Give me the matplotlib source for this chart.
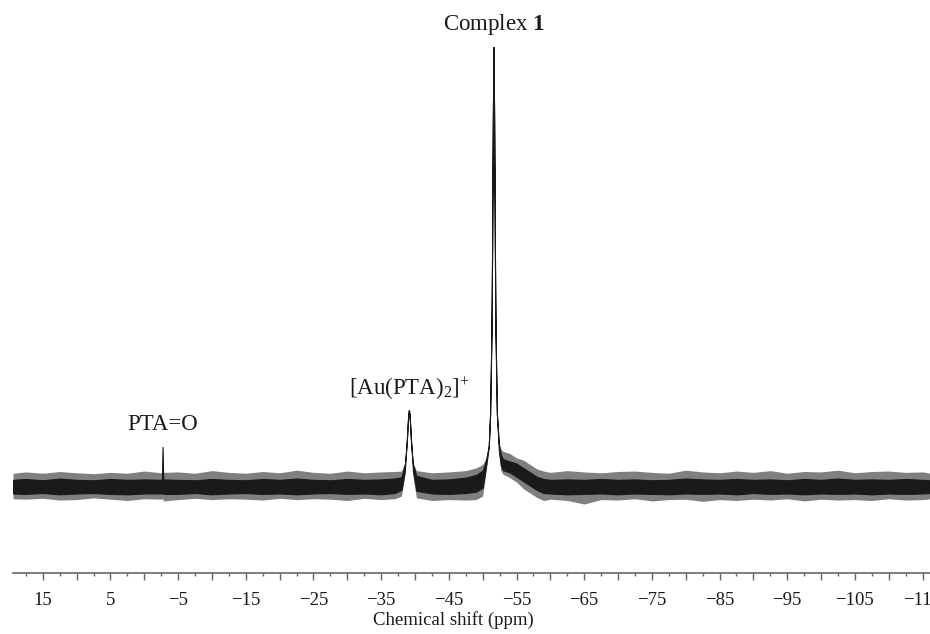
"""
31P NMR spectrum — Complex 1 with [Au(PTA)2]+ and PTA=O signals.
Saves out.png (930 x 634 px).
"""

import matplotlib
matplotlib.use("Agg")
import matplotlib.pyplot as plt
import matplotlib.ticker as mticker

plt.rcParams["font.family"] = ["Liberation Serif", "DejaVu Serif"]
plt.rcParams["mathtext.fontset"] = "custom"
plt.rcParams["mathtext.rm"] = "Liberation Serif"
plt.rcParams["mathtext.it"] = "Liberation Serif:italic"
plt.rcParams["mathtext.bf"] = "Liberation Serif:bold"

# ── spectrum (intensity: baseline 0, main peak 100) ───────────────────────────
# noise band drawn as two envelopes: dense core and outer spikes
PPM = [19.4, 17.5, 15.0, 12.5, 10.0, 7.5, 5.0, 2.5, 0.0, -2.6, -2.7, -2.8,
       -5.0, -7.5, -10.0, -12.5, -15.0, -17.5, -20.0, -22.5, -25.0, -27.5,
       -30.0, -32.5, -35.0, -37.0, -38.0, -38.5, -38.65, -38.8, -38.9, -39.0,
       -39.1, -39.2, -39.3, -39.4, -39.55, -39.7, -40.2, -42.5, -45.0, -47.5,
       -49.0, -50.0, -50.5, -50.9, -51.1, -51.3, -51.4, -51.5, -51.6, -51.7,
       -51.8, -51.9, -52.1, -52.4, -52.7, -53.0, -54.0, -55.0, -56.0, -57.0,
       -58.0, -59.0, -60.0, -62.5, -65.0, -67.5, -70.0, -72.5, -75.0, -77.5,
       -80.0, -82.5, -85.0, -87.5, -90.0, -92.5, -95.0, -97.5, -100.0, -102.5,
       -105.0, -107.5, -110.0, -112.5, -115.0, -116.2]

UPPER_SPIKE = [3.0, 3.3, 3.0, 3.4, 3.1, 2.9, 3.2, 3.0, 3.5, 3.1, 9.0, 3.2,
               3.3, 3.0, 3.6, 3.2, 3.0, 3.4, 3.1, 3.7, 3.2, 3.0,
               3.5, 3.1, 3.3, 3.4, 3.5, 5.5, 7.4, 10.6, 13.6, 16.2,
               17.4, 16.2, 13.6, 10.6, 7.4, 5.5, 3.6, 3.1, 3.3, 3.6,
               4.2, 5.0, 6.5, 9.5, 16.5, 35.0, 55.0, 83.0, 100.0, 83.0,
               55.0, 35.0, 16.5, 10.0, 8.5, 8.0, 7.5, 6.5, 6.0, 5.0,
               4.0, 3.5, 3.2, 3.6, 3.3, 3.1, 3.4, 3.5, 3.2, 3.0,
               3.7, 3.3, 3.1, 3.5, 3.2, 3.6, 3.0, 3.4, 3.3, 3.7,
               3.1, 3.4, 3.5, 3.2, 3.3, 3.0]

UPPER_CORE = [1.5, 1.7, 1.4, 1.8, 1.5, 1.4, 1.7, 1.5, 1.6, 1.5, 9.0, 1.6,
              1.5, 1.4, 1.7, 1.5, 1.4, 1.7, 1.5, 1.8, 1.5, 1.4,
              1.7, 1.5, 1.6, 1.8, 2.1, 5.0, 7.4, 10.6, 13.6, 16.2,
              17.4, 16.2, 13.6, 10.6, 7.4, 5.0, 2.4, 1.5, 1.6, 2.0,
              2.6, 3.6, 6.0, 9.2, 16.5, 35.0, 55.0, 83.0, 100.0, 83.0,
              55.0, 35.0, 16.5, 9.5, 7.2, 6.2, 5.7, 5.2, 4.2, 3.2,
              2.2, 1.7, 1.5, 1.6, 1.5, 1.7, 1.5, 1.6, 1.4, 1.5,
              1.8, 1.6, 1.5, 1.7, 1.5, 1.6, 1.4, 1.7, 1.5, 1.8,
              1.5, 1.6, 1.5, 1.7, 1.5, 1.4]

LOWER_CORE = [-1.6, -1.7, -1.5, -1.8, -1.6, -1.5, -1.7, -1.8, -1.6, -1.6, -1.4, -1.7,
              -1.7, -1.5, -1.8, -1.6, -1.5, -1.7, -1.6, -1.8, -1.6, -1.5,
              -1.7, -1.6, -1.8, -1.5, -0.8, 3.5, 7.4, 10.6, 13.6, 16.2,
              17.4, 16.2, 13.6, 10.6, 7.4, 3.5, -1.0, -1.6, -1.7, -1.5,
              -1.2, -0.3, 4.5, 9.0, 16.5, 35.0, 55.0, 83.0, 100.0, 83.0,
              55.0, 35.0, 16.5, 8.0, 4.7, 3.7, 3.2, 2.2, 1.2, 0.2,
              -0.8, -1.5, -1.6, -1.8, -1.7, -1.6, -1.8, -1.6, -1.7, -1.8,
              -1.6, -1.7, -1.6, -1.8, -1.5, -1.7, -1.6, -1.8, -1.6, -1.7,
              -1.6, -1.8, -1.6, -1.7, -1.6, -1.5]

LOWER_SPIKE = [-2.8, -2.9, -2.7, -3.1, -3.0, -2.6, -2.9, -3.2, -2.8, -2.9, -2.6, -3.3,
               -3.0, -2.7, -3.0, -2.8, -2.9, -3.1, -2.7, -3.0, -2.8, -2.9,
               -3.2, -2.7, -3.0, -2.8, -2.2, 2.5, 7.4, 10.6, 13.6, 16.2,
               17.4, 16.2, 13.6, 10.6, 7.4, 2.5, -2.6, -3.2, -3.0, -3.1,
               -3.0, -2.2, 3.5, 9.0, 16.5, 35.0, 55.0, 83.0, 100.0, 83.0,
               55.0, 35.0, 16.5, 7.5, 3.5, 2.8, 2.0, 1.0, -0.5, -1.5,
               -2.5, -3.2, -2.9, -3.2, -4.0, -3.0, -3.1, -2.8, -3.3, -3.0,
               -2.9, -3.4, -3.0, -3.2, -2.9, -3.1, -2.8, -3.3, -2.9, -3.1,
               -3.0, -3.2, -2.8, -3.1, -3.0, -2.8]

# peak annotations: (text, ppm, intensity of text baseline)
LABELS = ["PTA=O", r"[Au(PTA)$_2$]$^{+}$", r"Complex $\mathbf{1}$"]
LABEL_PPM = [-2.7, -39.1, -51.6]
LABEL_Y = [12.9, 20.8, 103.9]

TICK_LABELS = [15, 5, -5, -15, -25, -35, -45, -55, -65, -75, -85, -95, -105, -115]

# ── figure ───────────────────────────────────────────────────────────────────
W, H = 930, 634
fig = plt.figure(figsize=(W / 100, H / 100), dpi=100)
ax = fig.add_axes([13 / W, (H - 573) / H, (W - 13) / W, 573 / H])

# outer noise spikes, then the dense core of the trace
ax.fill_between(PPM, LOWER_SPIKE, UPPER_SPIKE, color="black", alpha=0.5,
                linewidth=0)
ax.fill_between(PPM, LOWER_CORE, UPPER_CORE, facecolor="#1a1a1a",
                edgecolor="#1a1a1a", linewidth=0.8)

for text, x, y in zip(LABELS, LABEL_PPM, LABEL_Y):
    ax.text(x, y, text, ha="center", va="baseline", fontsize=16.5,
            color="#1a1a1a")

ax.set_xlim(19.4, -116.1)
ax.set_ylim(-19.7, 110.7)

for side in ("left", "right", "top"):
    ax.spines[side].set_visible(False)
ax.spines["bottom"].set_color("#666666")
ax.spines["bottom"].set_linewidth(1.2)
ax.set_yticks([])

ax.xaxis.set_major_locator(mticker.MultipleLocator(5))
ax.xaxis.set_minor_locator(mticker.MultipleLocator(2.5))
ax.xaxis.set_major_formatter(mticker.FuncFormatter(
    lambda v, pos: f"{int(round(v))}".replace("-", "\u2212")
    if int(round(v)) in TICK_LABELS else ""))
ax.tick_params(axis="x", which="major", length=5, width=1.0, color="#666666",
               labelsize=13.5, labelcolor="#1a1a1a", pad=9)
ax.tick_params(axis="x", which="minor", length=2.5, width=1.0, color="#666666")

ax.set_xlabel("Chemical shift (ppm)", fontsize=13.5, color="#1a1a1a")
ax.xaxis.set_label_coords(0.48, -0.066)

fig.savefig("out.png", dpi=100)
plt.close(fig)
